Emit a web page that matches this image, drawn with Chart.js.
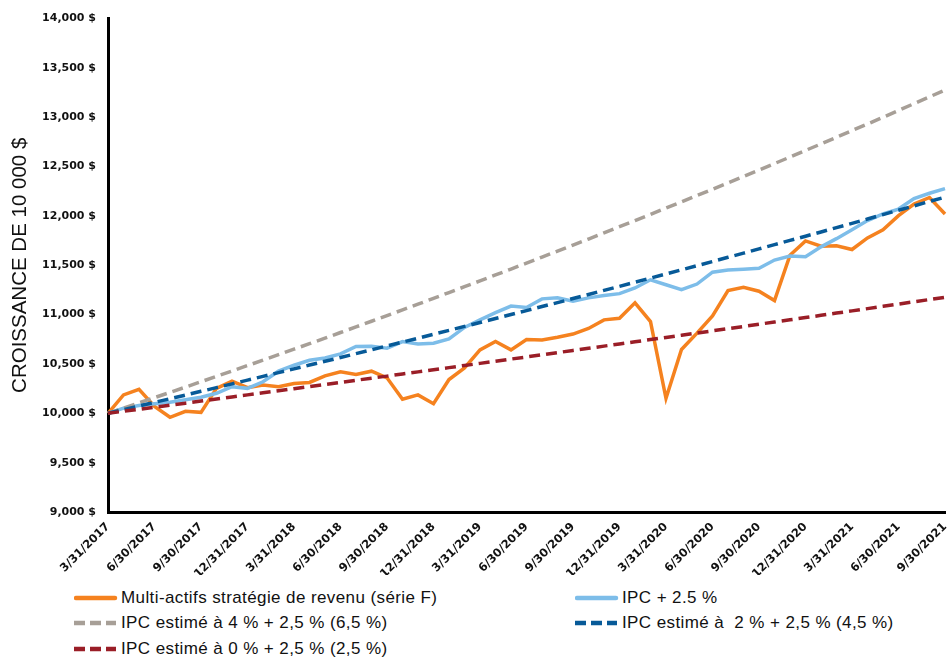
<!DOCTYPE html>
<html>
<head>
<meta charset="utf-8">
<script src="https://cdn.jsdelivr.net/npm/chart.js@4.4.1/dist/chart.umd.min.js"></script>
<style>
  body { margin: 0; background: #fff; width: 948px; height: 657px; position: relative; overflow: hidden; }
  #wrap { position: absolute; left: 0; top: 0; width: 948px; height: 575px; }
  .leg { position: absolute; font-family: "Liberation Sans", Arial, sans-serif; font-size: 17px; letter-spacing: 0.4px; color: #111; white-space: pre; line-height: 20px; }
  .leg svg { position: absolute; left: 0; top: 7px; }
  .leg span { position: absolute; left: 47px; top: 0; }
</style>
</head>
<body>
<div id="wrap"><canvas id="chart"></canvas></div>
<div id="legend"></div>
<script>
// Dates mensuelles (fin de mois)
const dates = [
  '3/31/2017','4/30/2017','5/31/2017','6/30/2017','7/31/2017','8/31/2017','9/30/2017','10/31/2017','11/30/2017','12/31/2017',
  '1/31/2018','2/28/2018','3/31/2018','4/30/2018','5/31/2018','6/30/2018','7/31/2018','8/31/2018','9/30/2018','10/31/2018','11/30/2018','12/31/2018',
  '1/31/2019','2/28/2019','3/31/2019','4/30/2019','5/31/2019','6/30/2019','7/31/2019','8/31/2019','9/30/2019','10/31/2019','11/30/2019','12/31/2019',
  '1/31/2020','2/29/2020','3/31/2020','4/30/2020','5/31/2020','6/30/2020','7/31/2020','8/31/2020','9/30/2020','10/31/2020','11/30/2020','12/31/2020',
  '1/31/2021','2/28/2021','3/31/2021','4/30/2021','5/31/2021','6/30/2021','7/31/2021','8/31/2021','9/30/2021'
];

// Multi-actifs stratégie de revenu (série F)
const fonds = [
  10000,10187,10243,10070,9960,10020,10010,10253,10327,10260,10287,10270,10303,10313,
  10380,10420,10393,10427,10360,10143,10187,10097,10343,10460,10643,10727,10643,10747,
  10743,10770,10803,10860,10947,10963,11120,10930,10153,10647,10813,10987,11243,11277,
  11237,11143,11603,11747,11693,11697,11660,11777,11860,12003,12120,12187,12020
];

// IPC + 2.5 %
const ipc = [
  10000,10053,10080,10097,10113,10137,10163,10203,10270,10253,10320,10427,10487,10537,
  10560,10603,10677,10680,10660,10727,10703,10710,10753,10870,10947,11020,11087,11073,
  11160,11170,11137,11170,11193,11213,11270,11353,11303,11253,11310,11430,11453,11460,
  11470,11553,11593,11587,11687,11770,11860,11953,12020,12070,12177,12230,12277
];

// IPC estimé à 4 % + 2,5 % (6,5 %)
const proj65 = [
  10000,10053,10106,10159,10212,10266,10320,10374,10429,10484,10539,10594,10650,10706,
  10762,10819,10876,10933,10991,11048,11106,11165,11224,11283,11342,11402,11462,11522,
  11583,11644,11705,11766,11828,11891,11953,12016,12080,12142,12207,12271,12336,12401,
  12466,12531,12597,12664,12730,12797,12865,12932,13000,13069,13138,13207,13276
];

// IPC estimé à 2 % + 2,5 % (4,5 %)
const proj45 = [
  10000,10037,10074,10111,10148,10185,10223,10260,10298,10336,10374,10412,10450,10489,
  10527,10566,10605,10643,10683,10722,10761,10801,10841,10881,10920,10961,11001,11041,
  11082,11122,11163,11204,11246,11287,11329,11370,11412,11454,11496,11538,11581,11623,
  11666,11709,11752,11795,11838,11882,11925,11969,12014,12058,12102,12147,12191
];

// IPC estimé à 0 % + 2,5 % (2,5 %)
const proj25 = [
  10000,10021,10041,10062,10083,10103,10124,10145,10166,10187,10208,10229,10250,10271,
  10292,10313,10335,10356,10377,10399,10420,10442,10463,10485,10506,10528,10550,10571,
  10593,10615,10637,10659,10681,10703,10725,10747,10769,10791,10813,10836,10858,10880,
  10903,10925,10948,10970,10993,11016,11038,11061,11084,11107,11130,11153,11176
];

const series = [
  { label: 'Multi-actifs stratégie de revenu (série F)', data: fonds, color: '#F5821F', dash: [], order: 5 },
  { label: 'IPC + 2.5 %', data: ipc, color: '#7DBDE9', dash: [], order: 4 },
  { label: 'IPC estimé à 4 % + 2,5 % (6,5 %)', data: proj65, color: '#A79F97', dash: [11, 6], order: 3 },
  { label: 'IPC estimé à  2 % + 2,5 % (4,5 %)', data: proj45, color: '#075A98', dash: [11, 6], order: 2 },
  { label: 'IPC estimé à 0 % + 2,5 % (2,5 %)', data: proj25, color: '#9A1E27', dash: [11, 6], order: 1 }
];

new Chart(document.getElementById('chart'), {
  type: 'line',
  data: {
    labels: dates,
    datasets: series.map(s => ({
      label: s.label,
      data: s.data,
      borderColor: s.color,
      backgroundColor: s.color,
      borderWidth: 3.5,
      borderDash: s.dash,
      pointRadius: 0,
      tension: 0,
      fill: false,
      order: s.order
    }))
  },
  options: {
    responsive: true,
    maintainAspectRatio: false,
    animation: false,
    layout: { padding: { top: 16, right: 3, left: 0, bottom: 0 } },
    plugins: { legend: { display: false }, tooltip: { enabled: false } },
    scales: {
      x: {
        grid: { display: false, drawTicks: false },
        border: { display: true, color: '#000', width: 3 },
        ticks: {
          autoSkip: false, maxRotation: 45, minRotation: 45, padding: 8,
          color: '#111', font: { family: 'DejaVu Sans', weight: 'bold', size: 11.5 },
          callback: function (v, i) { return i % 3 === 0 ? dates[i] : ''; }
        },
        // pas de marge à droite pour la dernière étiquette inclinée
        afterFit: function (s) { s.height = 63; s.paddingRight = 0; }
      },
      y: {
        min: 9000, max: 14000,
        grid: { display: false, drawTicks: false },
        border: { display: true, color: '#000', width: 3 },
        ticks: {
          stepSize: 500, padding: 12, color: '#111',
          font: { family: 'DejaVu Sans', weight: 'bold', size: 11 },
          callback: v => v.toLocaleString('en-US') + ' $'
        },
        title: {
          display: true, text: 'CROISSANCE DE 10 000 $', color: '#111',
          font: { family: 'Liberation Sans', size: 20.5, weight: 'normal' },
          padding: { top: 8, bottom: 0 }
        },
        afterFit: function (s) { s.width = 108; }
      }
    }
  }
});

// Légende
const legPos = [[74, 588], [575, 588], [74, 613], [575, 613], [74, 639]];
const legend = document.getElementById('legend');
series.forEach((s, i) => {
  const d = document.createElement('div');
  d.className = 'leg';
  d.style.left = legPos[i][0] + 'px';
  d.style.top = legPos[i][1] + 'px';
  const dashAttr = s.dash.length ? ' stroke-dasharray="11 5"' : ' stroke-linecap="round"';
  const x1 = s.dash.length ? 0 : 2, x2 = s.dash.length ? 42 : 41;
  d.innerHTML = '<svg width="44" height="6"><line x1="' + x1 + '" y1="3" x2="' + x2 + '" y2="3" stroke="' + s.color +
    '" stroke-width="4.5"' + dashAttr + '/></svg><span></span>';
  d.querySelector('span').textContent = s.label;
  legend.appendChild(d);
});
</script>
</body>
</html>
